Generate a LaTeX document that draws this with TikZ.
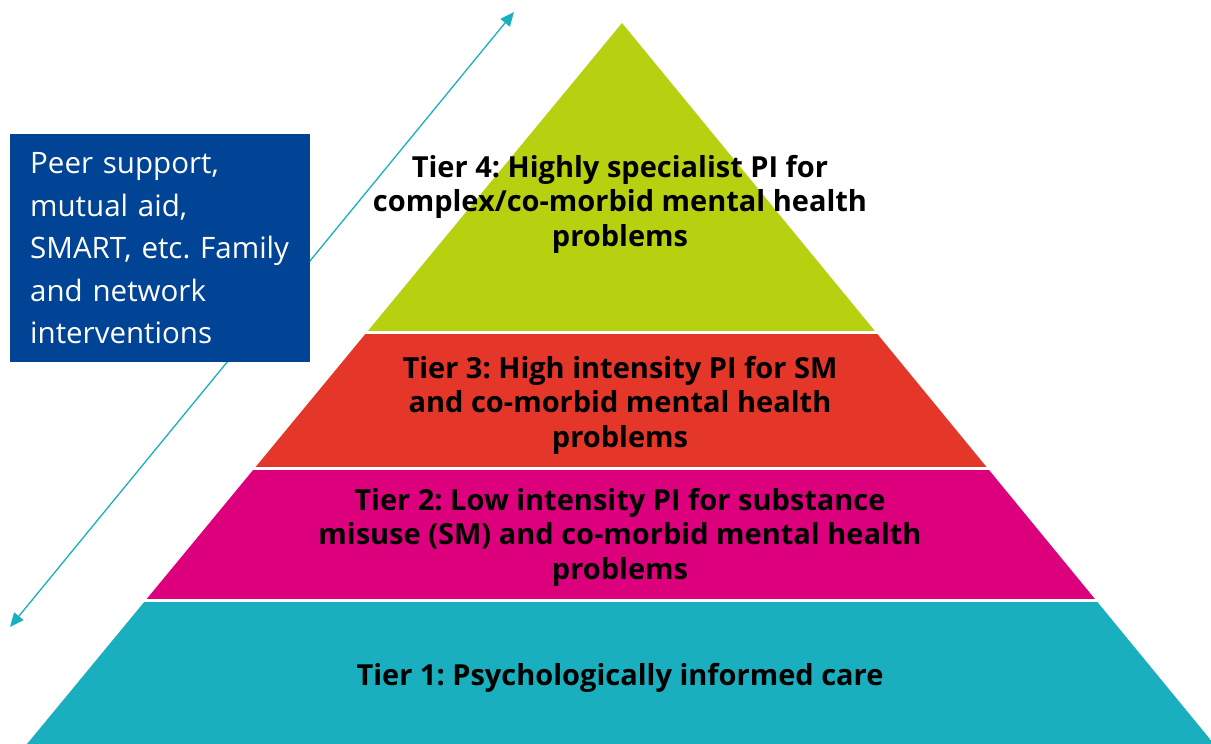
\documentclass[tikz,border=0pt]{standalone}
\usepackage{fontspec}
\setmainfont{Open Sans}
\frenchspacing
\usetikzlibrary{arrows.meta,positioning}
\definecolor{tiergreen}{RGB}{183,209,16}
\definecolor{tierred}{RGB}{228,54,41}
\definecolor{tiermagenta}{RGB}{220,0,124}
\definecolor{tierteal}{RGB}{26,175,190}
\definecolor{boxblue}{RGB}{1,68,149}

\begin{document}
\begin{tikzpicture}[x=1pt,y=-1pt,
 tier/.style={font=\bfseries\fontsize{29}{34.5}\selectfont,align=center,text=black,inner sep=0pt},
 peerbox/.style={fill=boxblue,text=white,font=\fontsize{29.5}{42.5}\selectfont,align=left,
 anchor=north west,text width=260pt,inner xsep=20pt,inner ysep=0pt,minimum width=300pt,
 minimum height=228pt},
 tierarrow/.style={draw=tierteal,line width=1.3pt,
 {Triangle[length=14pt,width=12pt]}-{Triangle[length=14pt,width=12pt]}},
 ]
 \useasboundingbox (0,0) rectangle (1211,744);
 \coordinate (apex) at (622,23);
 \coordinate (baseleft) at (27,744);
 \coordinate (baseright) at (1214,744);
 % the four tiers, white gaps left between them
 \begin{scope}
 \clip (apex) -- (baseleft) -- (baseright) -- cycle;
 \foreach \Col/\Top/\Bot in {tiergreen/0/331,tierred/334/467,tiermagenta/470/599,tierteal/602/744}
 {\fill[\Col] (0,\Top) rectangle (1214,\Bot);}
 \end{scope}
 % arrow along the left flank, behind the box
 \coordinate (arrowlo) at (10,627);
 \coordinate (arrowhi) at (514,12);
 \draw[tierarrow] (arrowlo) -- (arrowhi);
 \node[peerbox] (peer) at (10,134) {Peer support,\\ mutual aid,\\ SMART, etc. Family\\ and network\\ interventions};
 % tier labels
 \node[tier] (tierfour) at (620,204) {Tier 4: Highly specialist PI for\\ complex/co-morbid mental health\\ problems};
 \node[tier] (tierthree) at (620,405) {Tier 3: High intensity PI for SM\\ and co-morbid mental health\\ problems};
 \node[tier] (tiertwo) at (620,537) {Tier 2: Low intensity PI for substance\\ misuse (SM) and co-morbid mental health\\ problems};
 \node[tier] (tierone) at (620,678) {Tier 1: Psychologically informed care};
\end{tikzpicture}
\end{document}
